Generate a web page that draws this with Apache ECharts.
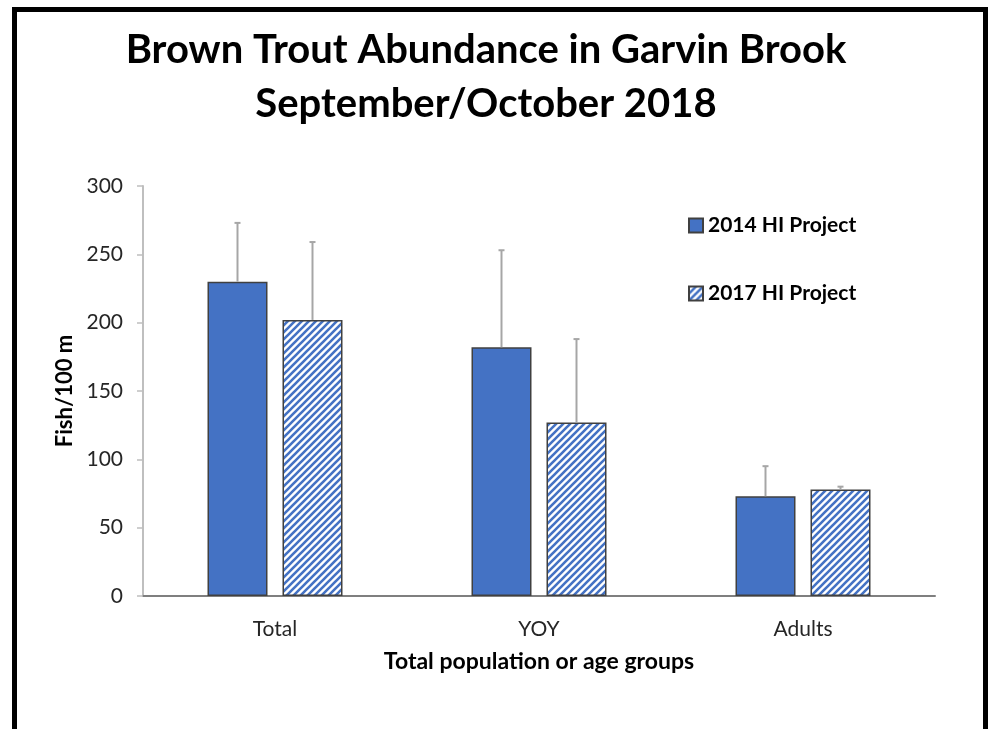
<!DOCTYPE html>
<html>
<head>
<meta charset="utf-8">
<style>
html,body{margin:0;padding:0;background:#fff;}
#chart{width:1001px;height:729px;}
</style>
<script src="https://cdn.jsdelivr.net/npm/echarts@6/dist/echarts.min.js"></script>
</head>
<body>
<div id="chart"></div>
<script>
// ---- data ----
var categories = ['Total', 'YOY', 'Adults'];
var seriesNames = ['2014 HI Project', '2017 HI Project'];
var values2014 = [230, 182, 73];
var values2017 = [202, 127, 78];
var upper2014 = [273, 253, 95];   // top of error bar
var upper2017 = [259, 188, 80];
var yTicks = [0, 50, 100, 150, 200, 250, 300];

var BLUE = '#4472C4';

// hatch pattern (diagonal "/" stripes)
function makeHatch() {
  var s = 7;
  var c = document.createElement('canvas');
  c.width = s; c.height = s;
  var g = c.getContext('2d');
  g.fillStyle = '#fff';
  g.fillRect(0, 0, s, s);
  g.strokeStyle = BLUE;
  g.lineWidth = 2.6;
  g.beginPath();
  g.moveTo(-s, s); g.lineTo(s, -s);
  g.moveTo(0, s * 2); g.lineTo(s * 2, 0);
  g.moveTo(0, s); g.lineTo(s, 0);
  g.stroke();
  return c;
}
var hatch = { image: makeHatch(), repeat: 'repeat' };

var chart = echarts.init(document.getElementById('chart'));

var BAR_W = 60, BAR_GAP = 15;
function errSeries(values, uppers, sign) {
  var data = values.map(function (v, i) { return [i, v, uppers[i]]; });
  return {
    type: 'custom',
    z: 5,
    silent: true,
    data: data,
    encode: { x: 0, y: [1, 2] },
    renderItem: function (params, api) {
      var off = sign * (BAR_W + BAR_GAP) / 2;
      var p0 = api.coord([api.value(0), api.value(1)]);
      var p1 = api.coord([api.value(0), api.value(2)]);
      var x = p0[0] + off;
      var style = { stroke: '#a6a6a6', lineWidth: 2 };
      return {
        type: 'group',
        children: [
          { type: 'line', shape: { x1: x, y1: p0[1], x2: x, y2: p1[1] }, style: style },
          { type: 'line', shape: { x1: x - 3, y1: p1[1], x2: x + 3, y2: p1[1] }, style: style }
        ]
      };
    }
  };
}

var option = {
  backgroundColor: '#fff',
  animation: false,
  title: {
    text: 'Brown Trout Abundance in Garvin Brook\nSeptember/October 2018',
    left: 481,
    textAlign: 'center',
    top: 18,
    textStyle: {
      fontFamily: 'Lato',
      fontWeight: 'bold',
      fontSize: 40,
      lineHeight: 54,
      color: '#000'
    }
  },
  graphic: [{
    type: 'rect',
    shape: { x: 14.5, y: 9.5, width: 971, height: 760 },
    style: { fill: 'none', stroke: '#000', lineWidth: 5 },
    z: 100
  }],
  legend: {
    orient: 'vertical',
    left: 683,
    top: 210,
    itemGap: 47,
    itemWidth: 14,
    itemHeight: 14,
    icon: 'rect',
    data: seriesNames,
    textStyle: {
      fontFamily: 'Lato',
      fontWeight: 'bold',
      fontSize: 21,
      color: '#000'
    }
  },
  grid: { left: 143, right: 66, top: 186, bottom: 133 },
  xAxis: {
    type: 'category',
    data: categories,
    name: 'Total population or age groups',
    nameLocation: 'middle',
    nameGap: 54,
    nameTextStyle: { fontFamily: 'Lato', fontWeight: 'bold', fontSize: 23, color: '#000' },
    axisLine: { lineStyle: { color: '#7f7f7f', width: 2 } },
    axisTick: { show: false },
    axisLabel: { margin: 23, fontFamily: 'Lato', fontSize: 21, color: '#262626' }
  },
  yAxis: {
    type: 'value',
    min: yTicks[0],
    max: yTicks[yTicks.length - 1],
    interval: 50,
    name: 'Fish/100 m',
    nameLocation: 'middle',
    nameGap: 64,
    nameTextStyle: { fontFamily: 'Lato', fontWeight: 'bold', fontSize: 22, color: '#000' },
    splitLine: { show: false },
    axisLine: { show: true, lineStyle: { color: '#bfbfbf', width: 2 } },
    axisTick: { show: true, length: 6, lineStyle: { color: '#bfbfbf', width: 1.5 } },
    axisLabel: { margin: 20, fontFamily: 'Lato', fontSize: 21, color: '#262626' }
  },
  series: [
    {
      name: seriesNames[0],
      type: 'bar',
      data: values2014,
      barWidth: BAR_W,
      barGap: (BAR_GAP / BAR_W * 100) + '%',
      itemStyle: { color: BLUE, borderColor: '#404040', borderWidth: 1.5 }
    },
    {
      name: seriesNames[1],
      type: 'bar',
      data: values2017,
      barWidth: BAR_W,
      itemStyle: { color: hatch, borderColor: '#404040', borderWidth: 1.5 }
    },
    errSeries(values2014, upper2014, -1),
    errSeries(values2017, upper2017, 1)
  ]
};
chart.setOption(option);
</script>
</body>
</html>
